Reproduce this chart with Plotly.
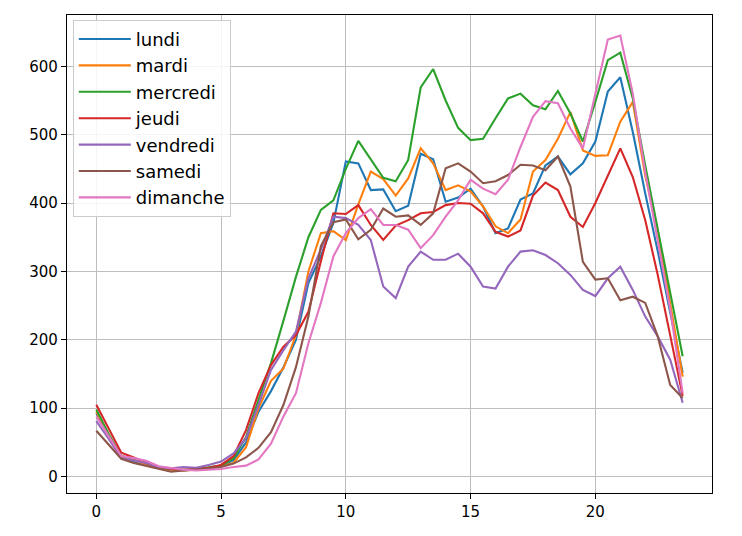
import plotly.graph_objects as go

heures = [i * 0.5 for i in range(48)]

lundi = [93, 60, 28, 22, 18, 14, 10, 9, 10, 12, 16, 24,
         50, 95, 125, 160, 200, 283, 322, 371, 461, 458, 419, 420,
         388, 396, 472, 464, 402, 408, 421, 395, 356, 363, 405, 414,
         455, 468, 442, 458, 490, 563, 584, 504, 414, 330, 240, 152]
mardi = [95, 60, 28, 24, 18, 13, 10, 9, 10, 13, 15, 20,
         43, 100, 140, 158, 207, 300, 356, 359, 346, 398, 446, 435,
         411, 436, 480, 458, 419, 426, 417, 395, 366, 356, 376, 446,
         463, 494, 533, 477, 469, 470, 519, 548, 440, 360, 255, 146]
mercredi = [98, 62, 30, 26, 20, 14, 11, 10, 11, 13, 16, 27,
            58, 112, 166, 228, 292, 350, 390, 404, 450, 491, 463, 437,
            432, 463, 569, 596, 550, 510, 492, 494, 524, 553, 560, 543,
            537, 564, 531, 490, 548, 609, 620, 553, 455, 362, 268, 176]
jeudi = [105, 70, 35, 28, 20, 14, 11, 10, 11, 13, 17, 30,
         68, 122, 163, 190, 207, 241, 315, 385, 384, 397, 368, 346,
         367, 375, 385, 387, 397, 400, 399, 385, 358, 351, 360, 411,
         430, 419, 380, 365, 400, 441, 480, 438, 375, 295, 205, 118]
vendredi = [81, 55, 27, 24, 20, 14, 12, 14, 13, 17, 22, 34,
            56, 105, 156, 185, 212, 290, 332, 380, 378, 368, 346, 278,
            261, 307, 329, 317, 317, 326, 307, 278, 275, 307, 329, 331,
            324, 312, 295, 273, 264, 290, 307, 273, 234, 205, 171, 108]
samedi = [67, 47, 26, 20, 16, 11, 7, 9, 10, 12, 14, 19,
          28, 42, 65, 105, 160, 234, 337, 372, 376, 347, 361, 392,
          380, 382, 368, 385, 451, 458, 446, 429, 432, 441, 456, 455,
          448, 468, 424, 314, 288, 290, 258, 263, 254, 205, 134, 115]
dimanche = [88, 58, 30, 27, 23, 15, 12, 10, 9, 10, 11, 14,
            16, 25, 48, 88, 122, 195, 254, 322, 356, 378, 391, 368,
            368, 361, 334, 353, 380, 404, 434, 421, 413, 434, 482, 526,
            549, 546, 509, 480, 560, 639, 645, 560, 445, 345, 245, 122]

noms = ["lundi", "mardi", "mercredi", "jeudi", "vendredi", "samedi", "dimanche"]
series = [lundi, mardi, mercredi, jeudi, vendredi, samedi, dimanche]
couleurs = ["#1f77b4", "#ff7f0e", "#2ca02c", "#d62728", "#9467bd", "#8c564b", "#e377c2"]

x_ticks = [0, 5, 10, 15, 20]
y_ticks = [0, 100, 200, 300, 400, 500, 600]

fig = go.Figure()
for nom, vals, c in zip(noms, series, couleurs):
    fig.add_trace(go.Scatter(x=heures, y=vals, mode="lines", name=nom,
                             line=dict(color=c, width=2.1)))

axis_common = dict(showgrid=True, gridcolor="#bdbdbd", gridwidth=1.4,
                   zeroline=False, showline=True, linecolor="black", linewidth=1.3,
                   mirror=True, ticks="outside", ticklen=5, tickcolor="black",
                   automargin=False,
                   tickfont=dict(family="DejaVu Sans", size=15, color="black"))

fig.update_layout(
    width=742, height=536,
    margin=dict(l=59, r=38, t=7, b=51),
    paper_bgcolor="white", plot_bgcolor="white",
    showlegend=True,
    legend=dict(x=0.009, y=0.99, xanchor="left", yanchor="top",
                bgcolor="rgba(255,255,255,0.85)", bordercolor="#cccccc", borderwidth=1,
                font=dict(family="DejaVu Sans", size=18, color="black"),
                tracegroupgap=0, itemwidth=52),
    xaxis=dict(range=[-1.175, 24.675], tickvals=x_ticks, **axis_common),
    yaxis=dict(range=[-24, 675], tickvals=y_ticks, **axis_common),
)

fig.write_html("out.html")
